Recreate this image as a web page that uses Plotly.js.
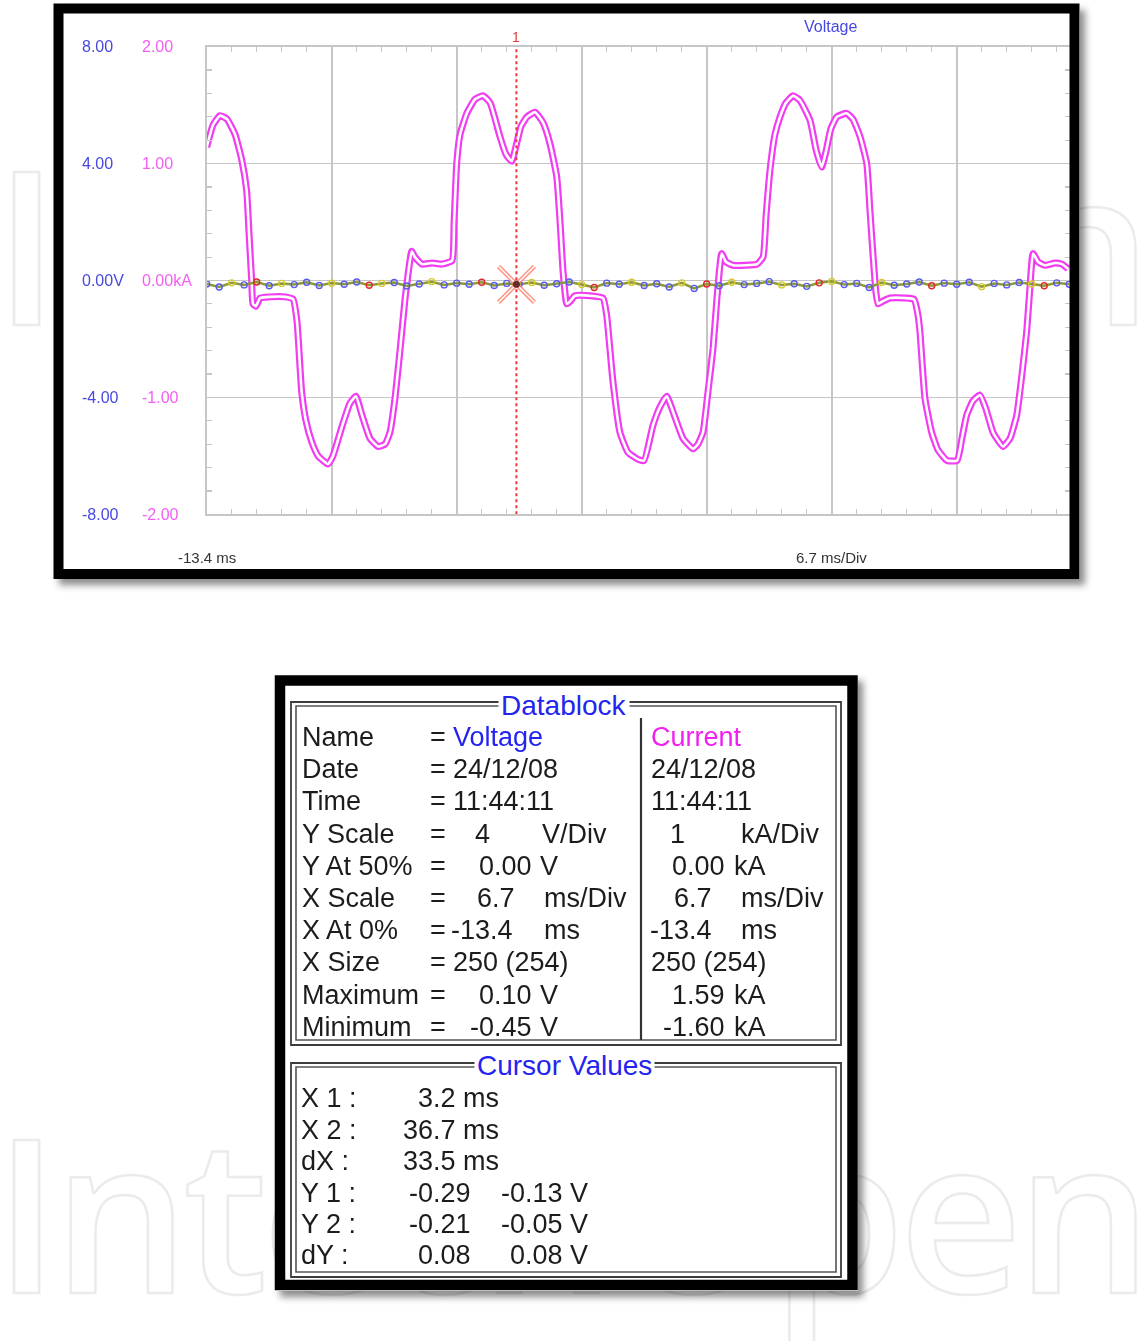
<!DOCTYPE html>
<html><head><meta charset="utf-8">
<script src="https://cdn.plot.ly/plotly-3.0.1.min.js"></script>
<style>
html,body{margin:0;padding:0;background:#fff;}
#wrap{position:relative;width:1138px;height:1341px;overflow:hidden;background:#fff;}
#wm{position:absolute;left:0;top:0;}
.box{position:absolute;background:#fff;box-shadow:5px 6px 7px rgba(0,0,0,0.45);}
#chart{position:absolute;left:0;top:0;width:1138px;height:1341px;}
</style></head>
<body><div id="wrap">
<canvas id="wm" width="1138" height="1341"></canvas>
<div class="box" style="left:54px;top:4px;width:1026px;height:575px;"></div>
<div class="box" style="left:275px;top:675px;width:583px;height:616px;"></div>
<div id="chart"></div>
</div>
<script>
// ---------- data ----------
// Current trace (kA) vs time (ms)
const timeMs = [-13.4,-13.06,-12.69,-12.31,-11.88,-11.52,-11.26,-11.13,-10.99,-10.92,
 -10.76,-10.54,-10.01,-9.2,-8.77,-8.56,-8.31,-8.08,-7.77,-7.43,
 -6.9,-6.63,-6.15,-5.72,-5.4,-5.08,-4.65,-4.22,-3.84,-3.58,
 -3.31,-3.04,-2.77,-2.61,-2.41,-2.24,-1.86,-1.32,-0.79,-0.25,
 -0.14,0.0,0.18,0.54,0.98,1.41,1.79,2.32,2.64,2.95,
 3.18,3.45,3.77,4.2,4.63,5.0,5.36,5.54,5.7,5.9,
 6.07,6.34,7.15,7.84,8.04,8.22,8.38,8.75,9.18,9.72,
 10.04,10.52,10.9,11.26,11.59,12.13,12.67,12.93,13.2,13.47,
 13.74,13.95,14.06,14.2,14.43,14.81,15.45,16.1,16.42,16.58,
 16.79,17.06,17.33,17.65,18.03,18.4,18.94,19.26,19.56,19.79,
 20.06,20.38,20.9,21.24,21.62,21.98,22.15,22.31,22.47,22.58,
 22.8,23.23,24.03,24.51,24.73,24.83,25.1,25.46,25.8,26.28,
 26.82,27.08,27.34,27.67,28.05,28.37,28.75,29.28,29.66,30.02,
 30.3,30.55,30.73,30.89,31.16,31.53,32.07,32.44,32.77];
const currentKA = [1.14,1.33,1.41,1.38,1.25,1.03,0.77,0.4,0.0,-0.2,
 -0.22,-0.15,-0.14,-0.14,-0.16,-0.35,-0.95,-1.2,-1.38,-1.5,
 -1.57,-1.5,-1.25,-1.05,-0.99,-1.15,-1.35,-1.42,-1.4,-1.3,
 -1.01,-0.6,-0.16,0.05,0.25,0.2,0.14,0.15,0.14,0.17,
 0.5,1.0,1.25,1.43,1.55,1.58,1.52,1.23,1.08,1.02,
 1.15,1.32,1.40,1.44,1.35,1.17,0.89,0.5,0.08,-0.2,
 -0.18,-0.13,-0.13,-0.15,-0.3,-0.6,-0.87,-1.3,-1.47,-1.53,
 -1.54,-1.24,-1.08,-0.99,-1.12,-1.35,-1.44,-1.4,-1.30,-0.95,
 -0.58,-0.15,0.05,0.23,0.16,0.13,0.13,0.14,0.2,0.55,
 0.94,1.25,1.40,1.52,1.58,1.54,1.37,1.12,0.97,1.1,
 1.3,1.40,1.43,1.38,1.23,1.0,0.6,0.23,-0.1,-0.2,
 -0.18,-0.15,-0.15,-0.16,-0.3,-0.44,-1.01,-1.3,-1.45,-1.54,
 -1.54,-1.35,-1.15,-1.03,-0.98,-1.1,-1.30,-1.42,-1.35,-1.15,
 -0.8,-0.44,-0.05,0.23,0.16,0.13,0.15,0.14,0.1];

// Voltage trace (V) vs time (ms)
const voltageTimeMs = [-13.4,-12.73,-12.06,-11.39,-10.72,-10.05,-9.38,-8.71,-8.04,-7.37,
 -6.7,-6.03,-5.36,-4.69,-4.02,-3.35,-2.68,-2.01,-1.34,-0.67,
 0,0.67,1.34,2.01,2.68,3.35,4.02,4.69,5.36,6.03,
 6.7,7.37,8.04,8.71,9.38,10.05,10.72,11.39,12.06,12.73,
 13.4,14.07,14.74,15.41,16.08,16.75,17.42,18.09,18.76,19.43,
 20.1,20.77,21.44,22.11,22.78,23.45,24.12,24.79,25.46,26.13,
 26.8,27.47,28.14,28.81,29.48,30.15,30.82,31.49,32.16,32.83];
const voltageV = [-0.12,-0.22,-0.08,-0.15,-0.05,-0.18,-0.10,-0.14,-0.06,-0.17,
 -0.09,-0.13,-0.05,-0.16,-0.10,-0.07,-0.19,-0.12,-0.04,-0.15,
 -0.09,-0.13,-0.06,-0.17,-0.10,-0.13,-0.07,-0.16,-0.11,-0.05,
 -0.14,-0.24,-0.09,-0.13,-0.06,-0.17,-0.11,-0.22,-0.08,-0.27,
 -0.12,-0.18,-0.06,-0.14,-0.10,-0.04,-0.15,-0.11,-0.20,-0.08,
 -0.03,-0.14,-0.10,-0.24,-0.07,-0.16,-0.12,-0.05,-0.18,-0.09,
 -0.13,-0.06,-0.21,-0.10,-0.15,-0.07,-0.12,-0.18,-0.08,-0.13];

// Cursor and trigger
const cursorX1Ms = 3.2;
const cursorY1V = -0.13;
const triggerMs = 0;

// Axis scales and tick labels
const xStartMs = -13.4, msPerDiv = 6.7;
const voltTicks = [-8, -4, 0, 4, 8];
const voltTickText = ['-8.00', '-4.00', '0.00V', '4.00', '8.00'];
const ampTicks = [-2, -1, 0, 1, 2];
const ampTickText = ['-2.00', '-1.00', '0.00kA', '1.00', '2.00'];

// Datablock texts
const dbLabels = ['Name','Date','Time','Y Scale','Y At 50%','X Scale','X At 0%','X Size','Maximum','Minimum'];
const dbVoltVals = ['Voltage','24/12/08','11:44:11','4','0.00','6.7','-13.4','250 (254)','0.10','-0.45'];
const dbVoltUnits = ['','','','V/Div','V','ms/Div','ms','','V','V'];
const dbCurrVals = ['Current','24/12/08','11:44:11','1','0.00','6.7','-13.4','250 (254)','1.59','-1.60'];
const dbCurrUnits = ['','','','kA/Div','kA','ms/Div','ms','','kA','kA'];
const cvLabels = ['X 1 :','X 2 :','dX :','Y 1 :','Y 2 :','dY :'];
const cvColA = ['3.2 ms','36.7 ms','33.5 ms','-0.29','-0.21','0.08'];
const cvColB = ['','','','-0.13 V','-0.05 V','0.08 V'];

// ---------- faint background watermark (drawn on a canvas behind the panels) ----------
(function () {
  const c = document.getElementById('wm').getContext('2d');
  c.font = '600 214px "Open Sans"';
  try { c.letterSpacing = '-6px'; } catch (e) {}
  c.strokeStyle = '#ebebeb';
  c.lineWidth = 2.5;
  c.strokeText('IntechOpen', -6, 325);
  c.strokeText('IntechOpen', -6, 1293);
})();

// ---------- layout helpers (pixel -> paper) ----------
const W = 1138, H = 1341;
const px = x => x / W, py = y => 1 - y / H;
const FONT = '"Liberation Sans", Arial, sans-serif';
const GRID = '#c6c6c6';
const PINK = '#f23cf2';
const BLUE_T = '#4848e0';
const PINK_T = '#f25ef2';

// plot area in pixels
const plotL = 206.7, plotR = 1070, plotT = 46.7, plotB = 514.3, divPx = 125;
const xEnd = xStartMs + (plotR - plotL) / divPx * msPerDiv;

const traces = [
  {x: timeMs, y: currentKA, mode: 'lines', line: {color: PINK, width: 7, shape: 'spline', smoothing: 0.45}, hoverinfo: 'skip', xaxis: 'x', yaxis: 'y'},
  {x: timeMs, y: currentKA, mode: 'lines', line: {color: '#ffffff', width: 2.6, shape: 'spline', smoothing: 0.45}, hoverinfo: 'skip', xaxis: 'x', yaxis: 'y'},
  {x: voltageTimeMs, y: voltageV, mode: 'lines+markers', xaxis: 'x', yaxis: 'y2',
   line: {color: '#8a9a36', width: 2.5},
   marker: {symbol: 'circle-open', size: 6,
     color: voltageV.map((v, i) => i % 9 === 4 ? '#e02828' : (i % 4 === 2 ? '#d8c830' : '#5a5af0')),
     line: {width: 1.4}}, hoverinfo: 'skip'},
  {x: [cursorX1Ms, cursorX1Ms], y: [-2, 2], mode: 'lines', xaxis: 'x', yaxis: 'y',
   line: {color: '#e83838', width: 2, dash: 'dot'}, hoverinfo: 'skip'},
  {x: [cursorX1Ms], y: [cursorY1V], mode: 'markers', xaxis: 'x', yaxis: 'y2',
   marker: {symbol: 'x-thin-open', size: 36, color: 'rgba(255,125,105,0.8)', line: {width: 4.5}}, hoverinfo: 'skip'},
  {x: [cursorX1Ms], y: [cursorY1V], mode: 'markers', xaxis: 'x', yaxis: 'y2',
   marker: {symbol: 'x-thin-open', size: 36, color: '#ffffff', line: {width: 1.4}}, hoverinfo: 'skip'},
  {x: [cursorX1Ms], y: [cursorY1V], mode: 'markers', xaxis: 'x', yaxis: 'y2',
   marker: {symbol: 'circle', size: 7, color: '#6a2a2a'}, hoverinfo: 'skip'},
  {x: [triggerMs], y: [-2.035], mode: 'markers', xaxis: 'x', yaxis: 'y3', cliponaxis: false,
   marker: {symbol: 'triangle-up', size: 8, color: '#000'}, hoverinfo: 'skip'}
];

const commonMinor = {ticks: 'inside', ticklen: 5, tickcolor: GRID, tickwidth: 1.2, showgrid: false};

const layout = {
  width: W, height: H,
  margin: {l: 0, r: 0, t: 0, b: 0},
  paper_bgcolor: 'rgba(0,0,0,0)',
  plot_bgcolor: '#ffffff',
  showlegend: false,
  font: {family: FONT},
  xaxis: {domain: [px(plotL), px(plotR)], range: [xStartMs, xEnd], tick0: xStartMs, dtick: msPerDiv,
    showticklabels: false, ticks: 'inside', ticklen: 5, tickcolor: GRID,
    showgrid: true, gridcolor: GRID, gridwidth: 1.6, zeroline: false,
    showline: true, linecolor: GRID, linewidth: 1.6, mirror: 'allticks',
    minor: Object.assign({dtick: msPerDiv / 5, tick0: xStartMs}, commonMinor), fixedrange: true},
  xaxis2: {overlaying: 'x', anchor: 'free', position: py(281.7), side: 'top', range: [xStartMs, xEnd],
    tick0: xStartMs, dtick: msPerDiv / 5, ticks: 'outside', ticklen: 5, tickcolor: GRID,
    showticklabels: false, showgrid: false, zeroline: false, showline: false},
  yaxis: {domain: [py(plotB), py(plotT)], range: [-2, 2], dtick: 1, tick0: 0,
    showticklabels: false, ticks: 'inside', ticklen: 5, tickcolor: GRID,
    showgrid: true, gridcolor: GRID, gridwidth: 1.6, zeroline: false,
    showline: true, linecolor: GRID, linewidth: 1.6, mirror: 'allticks',
    minor: Object.assign({dtick: 0.2, tick0: 0}, commonMinor), fixedrange: true},
  yaxis2: {overlaying: 'y', anchor: 'free', side: 'right', position: px(81), range: [-8, 8],
    tickvals: voltTicks, ticktext: voltTickText, ticks: '', showgrid: false, zeroline: false, showline: false,
    tickfont: {family: FONT, size: 16, color: BLUE_T}},
  yaxis3: {overlaying: 'y', anchor: 'free', side: 'right', position: px(141), range: [-2, 2],
    tickvals: ampTicks, ticktext: ampTickText, ticks: '', showgrid: false, zeroline: false, showline: false,
    tickfont: {family: FONT, size: 16, color: PINK_T}},
  yaxis4: {overlaying: 'y', anchor: 'free', side: 'left', position: px(831.7), range: [-2, 2],
    tick0: 0, dtick: 0.2, ticks: 'outside', ticklen: 5, tickcolor: GRID, showticklabels: false,
    showgrid: false, zeroline: false, showline: false},
  shapes: [],
  annotations: []
};

// frames
function rectPx(x0, y0, x1, y1, color, width) {
  return {type: 'rect', xref: 'paper', yref: 'paper', layer: 'above',
    x0: px(x0), x1: px(x1), y0: py(y1), y1: py(y0), line: {color: color, width: width}};
}
layout.shapes.push(rectPx(58.5, 8.5, 1074.5, 574, '#000', 10));
layout.shapes.push(rectPx(280, 680.5, 852.5, 1285, '#000', 10.5));
// group boxes (etched double lines)
layout.shapes.push(rectPx(291, 702, 841, 1045, '#3c3c3c', 1.8));
layout.shapes.push(rectPx(296, 706, 836, 1040, '#555555', 1.6));
layout.shapes.push(rectPx(291, 1063, 841, 1277, '#3c3c3c', 1.8));
layout.shapes.push(rectPx(296, 1067, 836, 1272, '#555555', 1.6));
layout.shapes.push({type: 'line', xref: 'paper', yref: 'paper', x0: px(641), x1: px(641), y0: py(1040), y1: py(718),
  line: {color: '#333', width: 2.2}});

function ann(text, x, y, opts) {
  layout.annotations.push(Object.assign({text: text, x: px(x), y: py(y), xref: 'paper', yref: 'paper',
    showarrow: false, xanchor: 'left', yanchor: 'middle',
    font: {family: FONT, size: 27, color: '#1c1c1c'}}, opts || {}));
}

// top panel texts
ann('Voltage', 830, 27, {xanchor: 'center', font: {family: FONT, size: 16, color: BLUE_T}});
layout.annotations.push({text: '-13.4 ms', x: xStartMs, xref: 'x', y: py(557), yref: 'paper', showarrow: false,
  xanchor: 'center', yanchor: 'middle', font: {family: FONT, size: 15, color: '#333'}});
ann('6.7 ms/Div', 831, 557, {xanchor: 'center', font: {family: FONT, size: 15, color: '#333'}});
layout.annotations.push({text: '1', x: cursorX1Ms, xref: 'x', y: py(37), yref: 'paper', showarrow: false,
  xanchor: 'center', yanchor: 'middle', font: {family: FONT, size: 14, color: '#e83838'}});

// Datablock
ann('Datablock', 563.5, 705, {xanchor: 'center', bgcolor: '#fff', borderpad: 2, font: {family: FONT, size: 28, color: '#2424f0'}});
ann('Cursor Values', 564.5, 1065, {xanchor: 'center', bgcolor: '#fff', borderpad: 2, font: {family: FONT, size: 28, color: '#2424f0'}});

const rowY0 = 737, rowStep = 32.2;
const vValAnchor = ['left','left','left','right','right','right','right','left','right','right'];
const vValX = [451, 451, 451, 492, 534, 517, 515, 451, 534, 534];
const vUnitX = [0, 0, 0, 540, 538, 542, 542, 0, 538, 538];
const cValAnchor = ['left','left','left','right','right','right','right','left','right','right'];
const cValX = [649, 649, 649, 687, 727, 714, 714, 649, 727, 727];
const cUnitX = [0, 0, 0, 739, 732, 739, 739, 0, 732, 732];
dbLabels.forEach((lab, i) => {
  const y = rowY0 + i * rowStep;
  ann(lab, 300, y);
  ann('=', 428, y);
  const vOpts = {xanchor: vValAnchor[i]};
  if (i === 0) vOpts.font = {family: FONT, size: 27, color: '#2424f0'};
  ann(dbVoltVals[i], vValX[i], y, vOpts);
  if (dbVoltUnits[i]) ann(dbVoltUnits[i], vUnitX[i], y);
  const cOpts = {xanchor: cValAnchor[i]};
  if (i === 0) cOpts.font = {family: FONT, size: 27, color: '#f020f0'};
  ann(dbCurrVals[i], cValX[i], y, cOpts);
  if (dbCurrUnits[i]) ann(dbCurrUnits[i], cUnitX[i], y);
});

const cvY0 = 1098.3, cvStep = 31.4;
cvLabels.forEach((lab, i) => {
  const y = cvY0 + i * cvStep;
  ann(lab, 299, y);
  ann(cvColA[i], i < 3 ? 501 : 473, y, {xanchor: 'right'});
  if (cvColB[i]) ann(cvColB[i], 590, y, {xanchor: 'right'});
});

Plotly.newPlot('chart', traces, layout, {staticPlot: true, displayModeBar: false});
</script>
</body></html>
